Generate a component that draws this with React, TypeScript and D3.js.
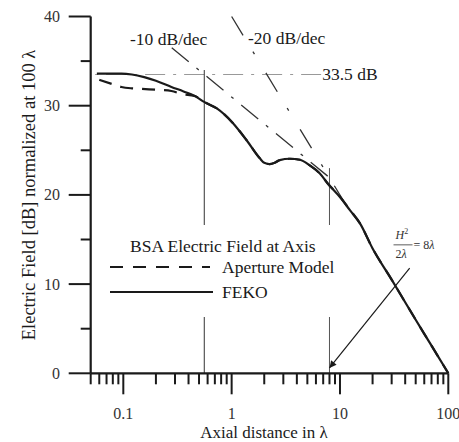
import React from 'react';
import * as d3 from 'd3';

const W = 459;
const H = 442;

// axis ticks
const xMajorValues = [0.1, 1, 10, 100];
const xMajorLabels = ['0.1', '1', '10', '100'];
const yMajorValues = [0, 10, 20, 30, 40];
const yMajorLabels = ['0', '10', '20', '30', '40'];
const yMinorValues = [5, 15, 25, 35];

// FEKO (solid)
const fekoX = [0.057, 0.07, 0.096, 0.12, 0.156, 0.2, 0.278, 0.36, 0.454, 0.5625, 0.73, 1.02, 1.38, 1.82, 2.0, 2.25, 2.5, 2.78, 3.44, 4.26, 5.27, 6.52, 7.74, 10, 12.4, 15.3, 20, 30, 50, 70, 100];
const fekoY = [33.6, 33.6, 33.6, 33.5, 33.2, 32.8, 32.1, 31.6, 31.1, 30.4, 29.7, 28.1, 26.1, 24.1, 23.6, 23.45, 23.6, 23.9, 24.05, 23.94, 23.3, 22.4, 21.25, 19.75, 18.26, 16.8, 14.0, 10.5, 6.0, 3.1, 0];

// Aperture model (dashed)
const apertureX = [0.06, 0.08, 0.096, 0.12, 0.147, 0.2, 0.278, 0.35, 0.454, 0.5625, 0.73, 1.02, 1.38, 1.82, 2.0, 2.25, 2.5, 2.78, 3.44, 4.26, 5.27, 6.52, 7.74, 10, 12.4, 15.3, 20, 30, 50, 70, 100];
const apertureY = [32.9, 32.4, 32.1, 31.95, 31.9, 31.8, 31.65, 31.3, 31.1, 30.4, 29.7, 28.1, 26.1, 24.1, 23.6, 23.45, 23.6, 23.9, 24.05, 23.94, 23.3, 22.4, 21.25, 19.8, 18.3, 16.8, 14.0, 10.5, 6.0, 3.1, 0];

// reference lines
const refLevel = 33.5;
const refLevelLabel = '33.5 dB';
const slope10X = [0.28, 8];
const slope10Y = [36.5, 21.94];
const slope10Label = '-10 dB/dec';
const slope20X = [1, 12];
const slope20Y = [40, 18.4];
const slope20Label = '-20 dB/dec';
const nearLineX = 0.559;
const nearLineTop = 34;
const farLineX = 8;
const farLineTop = 23;
const arrowFrom = [44, 11.8];
const arrowTo = [8, 0.6];
const fracAnchor = [37.8, 14.4];

const legendTitle = 'BSA Electric Field at Axis';
const legendItems = ['Aperture Model', 'FEKO'];
const xTitle = 'Axial distance in λ';
const yTitle = 'Electric Field [dB] normalized at 100 λ';

const FONT = '"Liberation Serif", "Times New Roman", serif';
const INK = '#1a1a1a';

export default function App() {
  const x = d3.scaleLog().domain([0.05, 100]).range([90.7, 448.3]);
  const y = d3.scaleLinear().domain([0, 40]).range([373.3, 16.5]);

  const line = d3
    .line<[number, number]>()
    .x((d) => x(d[0]))
    .y((d) => y(d[1]))
    .curve(d3.curveMonotoneX);

  const fekoPts = fekoX.map((v, i) => [v, fekoY[i]] as [number, number]);
  const apPts = apertureX.map((v, i) => [v, apertureY[i]] as [number, number]);

  const xTicks = x.ticks();
  const isMajor = (v: number) => Math.abs(Math.log10(v) - Math.round(Math.log10(v))) < 1e-6;
  const x0 = x.range()[0];
  const y0 = y(0);

  const [fx, fy] = [x(fracAnchor[0]), y(fracAnchor[1])];

  return (
    <svg width={W} height={H} style={{ position: 'absolute', left: 0, top: 0, background: '#fff' }} fontFamily={FONT}>
      <defs>
        <marker id="arr" viewBox="0 0 10 10" refX="10" refY="5" markerWidth="9" markerHeight="7" orient="auto" markerUnits="userSpaceOnUse">
          <path d="M0,0 L10,5 L0,10 Z" fill={INK} />
        </marker>
      </defs>

      {/* reference: 33.5 dB level, drawn from label back to axis */}
      <line x1={x(6.7)} x2={x0} y1={y(refLevel)} y2={y(refLevel)} stroke="#999" strokeWidth={1.2} strokeDasharray="20,8,3,8" />
      <text x={x(6.85)} y={y(refLevel) + 6} fontSize={17.5} fill={INK}>{refLevelLabel}</text>

      {/* vertical reference lines */}
      <line x1={x(nearLineX)} x2={x(nearLineX)} y1={y(nearLineTop)} y2={y0} stroke="#333" strokeWidth={1} />
      <line x1={x(farLineX)} x2={x(farLineX)} y1={y(farLineTop)} y2={y0} stroke="#555" strokeWidth={1} />

      {/* slope lines */}
      <line x1={x(slope10X[0])} y1={y(slope10Y[0])} x2={x(slope10X[1])} y2={y(slope10Y[1])} stroke="#333" strokeWidth={1.3} strokeDasharray="22,10,3,10" />
      <line x1={x(slope20X[0])} y1={y(slope20Y[0])} x2={x(slope20X[1])} y2={y(slope20Y[1])} stroke="#333" strokeWidth={1.3} strokeDasharray="22,19,3,22" />
      <text x={130} y={45} fontSize={17.5} fill={INK}>{slope10Label}</text>
      <text x={248} y={44} fontSize={17.5} fill={INK}>{slope20Label}</text>

      {/* curves */}
      <path d={line(apPts) || ''} fill="none" stroke={INK} strokeWidth={2.2} strokeDasharray="13,9" />
      <path d={line(fekoPts) || ''} fill="none" stroke={INK} strokeWidth={2.2} />

      {/* legend */}
      <rect x={106} y={225} width={232} height={92} fill="#fff" />
      <text x={130} y={252} fontSize={17.5} fill={INK}>{legendTitle}</text>
      <line x1={110} x2={210} y1={267} y2={267} stroke={INK} strokeWidth={2.2} strokeDasharray="13,10" />
      <text x={222} y={273} fontSize={17.5} fill={INK}>{legendItems[0]}</text>
      <line x1={110} x2={213} y1={292} y2={292} stroke={INK} strokeWidth={2} />
      <text x={222} y={298} fontSize={17.5} fill={INK}>{legendItems[1]}</text>

      {/* arrow annotation */}
      <line x1={x(arrowFrom[0])} y1={y(arrowFrom[1])} x2={x(arrowTo[0])} y2={y(arrowTo[1])} stroke={INK} strokeWidth={1.2} markerEnd="url(#arr)" />
      <g fill="#333" fontSize={12}>
        <text x={fx - 7} y={fy - 6} fontStyle="italic">H<tspan fontSize={8} dy={-5} fontStyle="normal">2</tspan></text>
        <line x1={fx - 9} x2={fx + 10} y1={fy} y2={fy} stroke="#333" strokeWidth={0.8} />
        <text x={fx - 7} y={fy + 13}>2<tspan fontStyle="italic">λ</tspan></text>
        <text x={fx + 11} y={fy + 4}>= 8<tspan fontStyle="italic">λ</tspan></text>
      </g>

      {/* axes */}
      <line x1={x0} x2={x0} y1={y(40)} y2={y0} stroke={INK} strokeWidth={2.2} />
      <line x1={x0} x2={x.range()[1]} y1={y0} y2={y0} stroke={INK} strokeWidth={2.2} />
      {xTicks.map((v, i) => (
        <line key={'xt' + i} x1={x(v)} x2={x(v)} y1={y0} y2={y0 + (isMajor(v) ? 21 : 11)} stroke={INK} strokeWidth={2} />
      ))}
      {xMajorValues.map((v, i) => (
        <text key={'xl' + i} x={x(v)} y={419} fontSize={16} textAnchor="middle" fill="#333">{xMajorLabels[i]}</text>
      ))}
      {yMajorValues.map((v, i) => (
        <g key={'yt' + i}>
          <line x1={x0 - 22} x2={x0} y1={y(v)} y2={y(v)} stroke={INK} strokeWidth={2} />
          <text x={60} y={y(v) + 5.5} fontSize={16} textAnchor="end" fill="#333">{yMajorLabels[i]}</text>
        </g>
      ))}
      {yMinorValues.map((v, i) => (
        <line key={'ym' + i} x1={x0 - 10} x2={x0} y1={y(v)} y2={y(v)} stroke={INK} strokeWidth={2} />
      ))}
      <text x={264} y={438} fontSize={17} textAnchor="middle" fill={INK}>{xTitle}</text>
      <text transform="translate(35,195) rotate(-90)" fontSize={18.5} textAnchor="middle" fill={INK}>{yTitle}</text>
    </svg>
  );
}
